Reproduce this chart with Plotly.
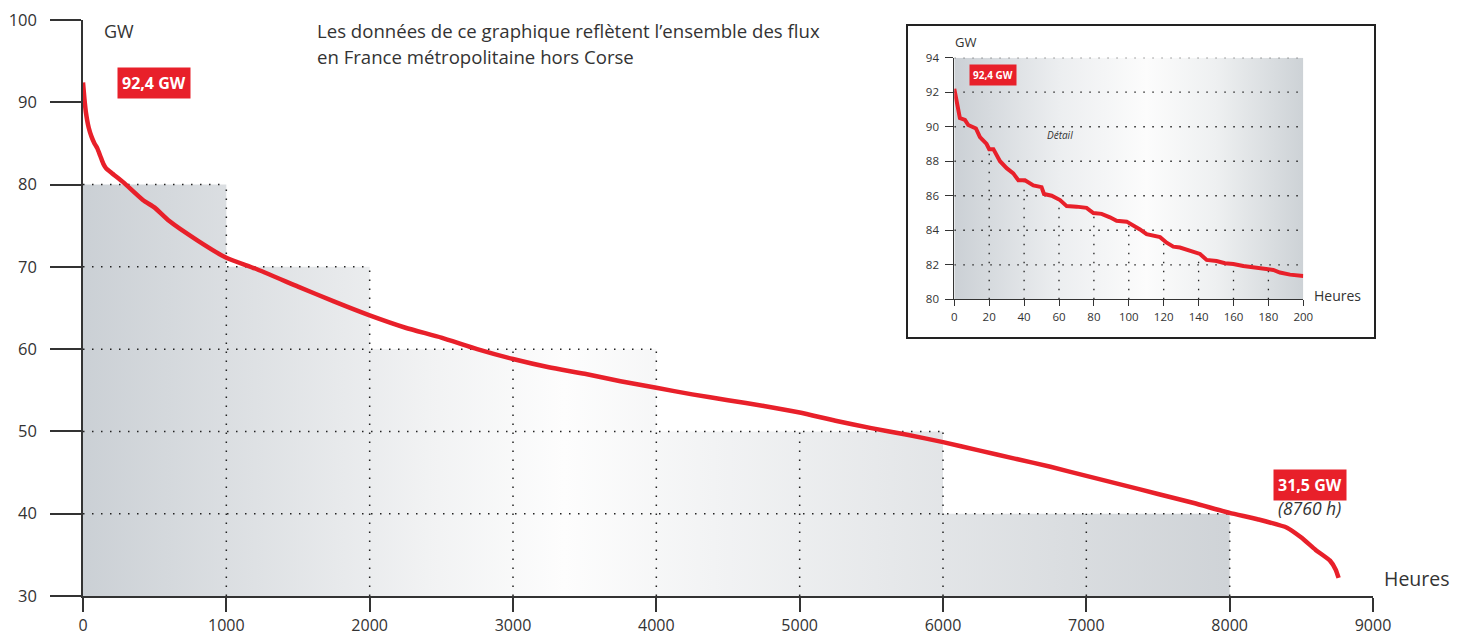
import numpy as np
import plotly.graph_objects as go

# ---------------- data ----------------
# main load-duration curve (hours, GW)
hours = [0, 10, 20, 40, 60, 80, 100, 120, 140, 160, 200, 280, 420, 500, 600, 800,
         1000, 1200, 1500, 1750, 2000, 2250, 2500, 2750, 3000, 3250, 3500, 3750,
         4000, 4250, 4500, 4750, 5000, 5250, 5500, 5750, 6000, 6250, 6500, 6750,
         7000, 7250, 7500, 7750, 8000, 8200, 8400, 8500, 8600, 8700, 8740, 8760]
gw = [92.4, 90.4, 88.8, 86.9, 85.8, 85.0, 84.4, 83.5, 82.6, 82.0, 81.4, 80.3, 78.1, 77.2, 75.6, 73.2,
      71.1, 69.8, 67.6, 65.8, 64.1, 62.6, 61.4, 60.0, 58.8, 57.8, 57.0, 56.1,
      55.3, 54.5, 53.8, 53.1, 52.3, 51.3, 50.4, 49.6, 48.7, 47.7, 46.7, 45.7,
      44.6, 43.5, 42.4, 41.3, 40.1, 39.3, 38.3, 37.1, 35.6, 34.3, 33.2, 32.2]

# staircase background (step end hour, level)
step_ends = [1000, 2000, 4000, 6000, 8000]
step_levels = [80, 70, 60, 50, 40]

x_ticks = [0, 1000, 2000, 3000, 4000, 5000, 6000, 7000, 8000, 9000]
y_ticks = [30, 40, 50, 60, 70, 80, 90, 100]

# inset detail (first 200 hours)
det_h = [0, 3.2, 6.1, 8, 12.4, 14.7, 18.5, 20, 22.4, 24.3, 26.2, 30, 33.8, 36.7, 40.5,
         45.3, 50, 51.4, 55.8, 60.6, 64.4, 70.1, 75.8, 79.7, 84.4, 89.2, 93, 98.8,
         102.6, 106.4, 110.2, 114, 117.9, 121.7, 125.5, 129.3, 133.1, 137, 140.8,
         144.6, 150.3, 155.1, 159.9, 165.6, 171.3, 177.1, 182.8, 186.6, 192.4, 200]
det_gw = [92.2, 90.5, 90.4, 90.1, 89.9, 89.4, 89.0, 88.7, 88.7, 88.3, 88.0, 87.6, 87.3, 86.9, 86.9,
          86.6, 86.5, 86.1, 86.0, 85.75, 85.4, 85.37, 85.3, 85.0, 84.95, 84.75, 84.55, 84.5,
          84.3, 84.05, 83.77, 83.67, 83.6, 83.28, 83.05, 83.0, 82.86, 82.72, 82.63,
          82.28, 82.22, 82.09, 82.05, 81.93, 81.85, 81.8, 81.7, 81.55, 81.43, 81.35]
det_x_ticks = [0, 20, 40, 60, 80, 100, 120, 140, 160, 180, 200]
det_y_ticks = [80, 82, 84, 86, 88, 90, 92, 94]

# ---------------- style ----------------
RED = "#e8202a"
INK = "#333333"
FONT = "Open Sans"
DOT = "1.5px,7.5px"

OFF = 8  # page body margin
W, H = 1458 - OFF, 635 - OFF
# screen-pixel plot area of the main chart
SL, SR, ST, SB = 83, 1373, 20, 596
L, T = SL - OFF, ST - OFF
R = W - (SR - OFF)
B = H - (SB - OFF)
PW, PH = W - L - R, H - T - B


def px(xs):
    return (xs - SL) / PW


def py(ys):
    return (SB - ys) / PH


fig = go.Figure()

# staircase gradient area
sx = [0] + step_ends
sy = step_levels + [step_levels[-1]]
fig.add_trace(go.Scatter(
    x=sx, y=sy, mode="lines", line=dict(width=0, shape="hv"), fill="tozeroy",
    fillgradient=dict(type="horizontal",
                      colorscale=[[0, "#cbd0d5"], [0.3, "#f1f2f3"], [0.42, "#fdfdfd"],
                                  [0.55, "#f2f3f4"], [1, "#cfd3d7"]]),
    hoverinfo="skip", showlegend=False))

# dotted grid derived from steps
gx, gy = [], []
for end, lev in zip(step_ends, step_levels):
    gx += [0, end, None]
    gy += [lev, lev, None]
for t in x_ticks[1:]:
    if t > step_ends[-1]:
        continue
    idx = next(i for i, e in enumerate(step_ends) if t <= e)
    gx += [t, t, None]
    gy += [y_ticks[0], step_levels[idx], None]
fig.add_trace(go.Scatter(x=gx, y=gy, mode="lines",
                         line=dict(color="#222222", width=1.5, dash=DOT),
                         hoverinfo="skip", showlegend=False))

# main curve
fig.add_trace(go.Scatter(x=hours, y=gw, mode="lines",
                         line=dict(color=RED, width=4.5, shape="spline", smoothing=0.5),
                         hoverinfo="skip", showlegend=False))

# ---------- inset ----------
ix0, ix1 = px(954.3), px(1303.3)
iy0, iy1 = py(299.3), py(57.7)

fig.add_shape(type="rect", xref="paper", yref="paper",
              x0=px(907), x1=px(1375), y0=py(338), y1=py(25),
              line=dict(color="#222222", width=2), fillcolor="white", layer="below")

fig.add_trace(go.Scatter(
    x=[det_x_ticks[0], det_x_ticks[-1], det_x_ticks[-1], det_x_ticks[0], det_x_ticks[0]],
    y=[det_y_ticks[0], det_y_ticks[0], det_y_ticks[-1], det_y_ticks[-1], det_y_ticks[0]],
    mode="lines", line=dict(width=0), fill="toself",
    fillgradient=dict(type="horizontal",
                      colorscale=[[0, "#cbd0d5"], [0.3, "#eceef0"], [0.55, "#fcfcfc"],
                                  [0.75, "#eef0f1"], [1, "#cdd2d6"]]),
    xaxis="x2", yaxis="y2", hoverinfo="skip", showlegend=False))

igx, igy = [], []
for v in det_y_ticks[1:]:
    igx += [det_x_ticks[0], det_x_ticks[-1], None]
    igy += [v, v, None]
for t in det_x_ticks[1:-1]:
    igx += [t, t, None]
    igy += [det_y_ticks[0], float(np.interp(t, det_h, det_gw)), None]
fig.add_trace(go.Scatter(x=igx, y=igy, mode="lines",
                         line=dict(color="#222222", width=1.3, dash=DOT),
                         xaxis="x2", yaxis="y2", hoverinfo="skip", showlegend=False))

fig.add_trace(go.Scatter(x=det_h, y=det_gw, mode="lines",
                         line=dict(color=RED, width=4),
                         xaxis="x2", yaxis="y2", hoverinfo="skip", showlegend=False))

# ---------- layout ----------
fig.update_layout(
    template="none",
    width=W, height=H, margin=dict(l=L, r=R, t=T, b=B, pad=0),
    paper_bgcolor="white", plot_bgcolor="rgba(0,0,0,0)",
    font=dict(family=FONT, color=INK, size=16),
    showlegend=False,
    xaxis=dict(range=[0, 9000], tickvals=x_ticks, ticktext=[str(v) for v in x_ticks],
               showgrid=False, zeroline=False, showline=True, linecolor=INK, linewidth=1.5,
               ticks="outside", ticklen=14, tickwidth=1.5, tickcolor=INK, automargin=False,
               tickfont=dict(size=16, color=INK), ticklabelstandoff=0,
               ticklabeloverflow="allow"),
    yaxis=dict(range=[30, 100], tickvals=y_ticks, showgrid=False, zeroline=False,
               showline=True, linecolor=INK, linewidth=1.5, automargin=False,
               ticks="outside", ticklen=31, tickwidth=1.5, tickcolor=INK,
               tickfont=dict(size=16.5, color=INK), ticklabelstandoff=10,
               ticklabeloverflow="allow"),
    xaxis2=dict(domain=[ix0, ix1], anchor="y2", range=[0, 200], tickvals=det_x_ticks,
                showgrid=False, zeroline=False, showline=True, linecolor=INK, linewidth=1,
                ticks="outside", ticklen=6, tickwidth=1, tickcolor=INK, automargin=False,
                tickfont=dict(size=11.5, color=INK), ticklabelstandoff=1),
    yaxis2=dict(domain=[iy0, iy1], anchor="x2", range=[80, 94], tickvals=det_y_ticks,
                showgrid=False, zeroline=False, showline=True, linecolor=INK, linewidth=1,
                ticks="outside", ticklen=8, tickwidth=1, tickcolor=INK, automargin=False,
                tickfont=dict(size=11.5, color=INK), ticklabelstandoff=4),
)

ann = []
ann.append(dict(xref="paper", yref="paper", x=px(102), y=py(31), xanchor="left",
                yanchor="middle", text="GW", showarrow=False, font=dict(size=18)))
ann.append(dict(xref="paper", yref="paper", x=px(315), y=py(30), xanchor="left",
                yanchor="middle", showarrow=False, font=dict(size=18.6),
                text="Les données de ce graphique reflètent l’ensemble des flux"))
ann.append(dict(xref="paper", yref="paper", x=px(315), y=py(56), xanchor="left",
                yanchor="middle", showarrow=False, font=dict(size=18.6),
                text="en France métropolitaine hors Corse"))
ann.append(dict(xref="paper", yref="paper", x=px(1382), y=py(578), xanchor="left",
                yanchor="middle", showarrow=False, font=dict(size=19.5), text="Heures"))
ann.append(dict(x=494, y=92.35, xref="x", yref="y", text="<b>92,4 GW</b>", showarrow=False,
                bgcolor=RED, font=dict(size=16, color="white"), borderpad=4))
ann.append(dict(x=8558, y=43.5, xref="x", yref="y", text="<b>31,5 GW</b>", showarrow=False,
                bgcolor=RED, font=dict(size=16, color="white"), borderpad=4))
ann.append(dict(x=8558, y=40.7, xref="x", yref="y", text="<i>(8760 h)</i>", showarrow=False,
                font=dict(size=17.5, color=INK)))
# inset texts
ann.append(dict(xref="paper", yref="paper", x=px(953), y=py(42), xanchor="left",
                yanchor="middle", text="GW", showarrow=False, font=dict(size=13)))
ann.append(dict(xref="paper", yref="paper", x=px(1312), y=py(295), xanchor="left",
                yanchor="middle", text="Heures", showarrow=False, font=dict(size=14)))
ann.append(dict(x=22.2, y=93.0, xref="x2", yref="y2", text="<b>92,4 GW</b>", showarrow=False,
                bgcolor=RED, font=dict(size=10, color="white"), borderpad=3))
ann.append(dict(x=60.6, y=89.5, xref="x2", yref="y2", text="<i>Détail</i>", showarrow=False,
                font=dict(size=10, color=INK)))
fig.update_layout(annotations=ann)

fig.write_html(
    "out.html",
    post_script="document.documentElement.style.overflow='hidden';"
                "document.body.style.overflow='hidden';",
)
